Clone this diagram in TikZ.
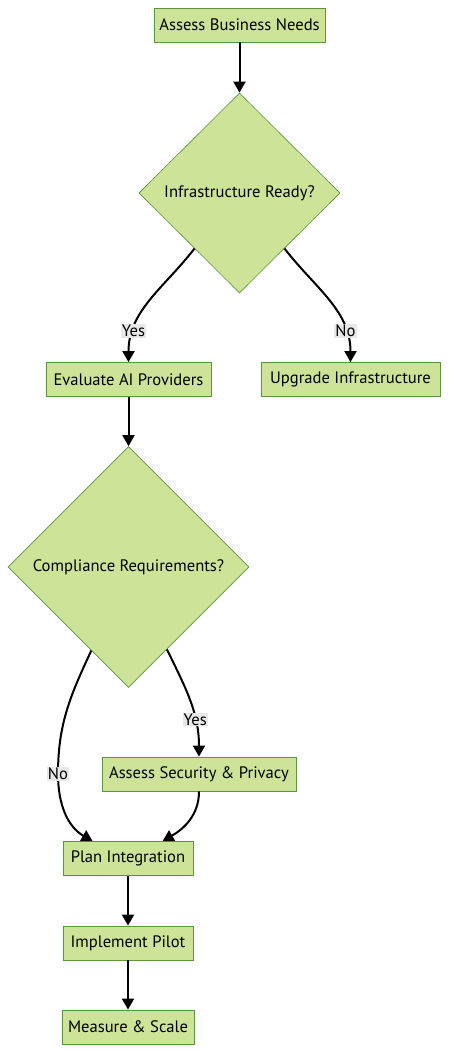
\documentclass[tikz,border=0pt]{standalone}
\usepackage{fontspec}
\setmainfont{PT Sans}
\usetikzlibrary{shapes.geometric}
\usetikzlibrary{arrows.meta}
\definecolor{boxfill}{HTML}{CDE498}
\definecolor{boxline}{HTML}{5C9440}
\definecolor{lblfill}{HTML}{E8E8E8}

\begin{document}
\begin{tikzpicture}[x=1pt, y=1pt, font=\fontsize{16.6}{19}\selectfont,
	proc/.style={draw=boxline,fill=boxfill,line width=0.8pt,minimum height=34pt,inner sep=0pt},
	dec/.style={draw=boxline,fill=boxfill,line width=0.6pt,diamond,inner sep=0pt,aspect=1},
	lbl/.style={fill=lblfill,inner sep=1pt},
	flow/.style={line width=2pt,-{Triangle[length=11pt,width=12pt]}}]
	\useasboundingbox (0,0) rectangle (449,-1051);
	\node[proc,minimum width=171pt] (n0) at (239.5,-25) {Assess Business Needs};
	\node[dec,minimum width=201pt,minimum height=200pt] (n1) at (239.5,-193) {Infrastructure Ready?};
	\node[proc,minimum width=165pt] (n2) at (128.5,-379.5) {Evaluate AI Providers};
	\node[proc,minimum width=179pt] (n3) at (350.5,-379.5) {Upgrade Infrastructure};
	\node[dec,minimum width=241pt,minimum height=241pt] (n4) at (128.5,-567) {Compliance Requirements?};
	\node[proc,minimum width=194pt] (n5) at (199,-774) {Assess Security \& Privacy};
	\node[proc,minimum width=130pt] (n6) at (128,-858.5) {Plan Integration};
	\node[proc,minimum width=130pt] (n7) at (128,-943) {Implement Pilot};
	\node[proc,minimum width=132pt] (n8) at (128,-1027) {Measure \& Scale};
	\coordinate (c0) at (58,-774);
	\draw[flow] (n0) -- (n1);
	\draw[flow] (n1.231) to[out=232,in=90] node[lbl,pos=0.77]{Yes} (n2);
	\draw[flow] (n1.309) to[out=-52,in=90] node[lbl,pos=0.77]{No} (n3);
	\draw[flow] (n2) -- (n4);
	\draw[flow] (n4.295) to[out=-64,in=90] node[lbl,pos=0.68]{Yes} (n5);
	\draw[flow] (n4.246) to[out=245,in=90] (c0) node[lbl]{No}
		to[out=-90,in=150] ([xshift=30pt]n6.north west);
	\draw[flow] (n5) to[out=-90,in=30] ([xshift=100pt]n6.north west);
	\draw[flow] (n6) -- (n7);
	\draw[flow] (n7) -- (n8);
\end{tikzpicture}
\end{document}
